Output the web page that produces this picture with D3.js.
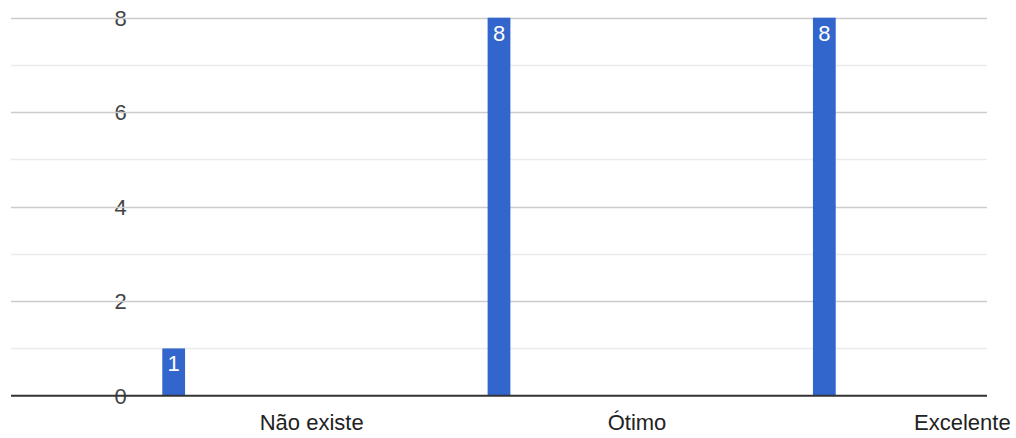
<!DOCTYPE html>
<html>
<head>
<meta charset="utf-8">
<script src="https://cdn.jsdelivr.net/npm/d3@7"></script>
<style>
  html, body { margin: 0; padding: 0; background: #fff; }
  svg { display: block; }
  text { font-family: Arial, "Liberation Sans", sans-serif; }
</style>
</head>
<body>
<svg id="chart" width="1016" height="438"></svg>
<script>
const categories = ["Não existe", "Ótimo", "Excelente"];
const values = [1, 8, 8];
const yTicks = [0, 2, 4, 6, 8];
const yMinorTicks = [1, 3, 5, 7];

(function () {
const W = 1016, H = 438;
const plotLeft = 11, plotRight = 987, plotTop = 17.7, plotBottom = 395.7;

const svg = d3.select("#chart");

const x = d3.scaleBand()
  .domain(categories)
  .range([plotLeft, plotRight])
  .paddingInner(0.93)
  .paddingOuter(0.465);

const y = d3.scaleLinear().domain([0, 8]).range([plotBottom, plotTop]);

// y labels
svg.append("g").selectAll("text")
  .data(yTicks)
  .join("text")
  .attr("x", 120.5)
  .attr("y", d => y(d))
  .attr("dy", "0.36em")
  .attr("text-anchor", "middle")
  .attr("font-size", 22)
  .attr("fill", "#444")
  .text(d => d);

// minor gridlines
svg.append("g").selectAll("line")
  .data(yMinorTicks)
  .join("line")
  .attr("x1", plotLeft).attr("x2", plotRight)
  .attr("y1", d => Math.round(y(d)) + 0.5)
  .attr("y2", d => Math.round(y(d)) + 0.5)
  .attr("stroke", "#ebebeb")
  .attr("stroke-width", 1.3);

// major gridlines
svg.append("g").selectAll("line")
  .data(yTicks.filter(d => d !== 0))
  .join("line")
  .attr("x1", plotLeft).attr("x2", plotRight)
  .attr("y1", d => Math.round(y(d)) + 0.5)
  .attr("y2", d => Math.round(y(d)) + 0.5)
  .attr("stroke", "#cccccc")
  .attr("stroke-width", 1.3);

// bars
svg.append("g").selectAll("rect")
  .data(values)
  .join("rect")
  .attr("x", (d, i) => x(categories[i]))
  .attr("width", x.bandwidth())
  .attr("y", d => y(d))
  .attr("height", d => y(0) - y(d))
  .attr("fill", "#3366cc");

// value labels
svg.append("g").selectAll("text")
  .data(values)
  .join("text")
  .attr("x", (d, i) => x(categories[i]) + x.bandwidth() / 2)
  .attr("y", d => y(d) + 23)
  .attr("text-anchor", "middle")
  .attr("font-size", 22)
  .attr("fill", "#ffffff")
  .text(d => d);

// baseline
svg.append("line")
  .attr("x1", plotLeft).attr("x2", plotRight)
  .attr("y1", y(0)).attr("y2", y(0))
  .attr("stroke", "#333333")
  .attr("stroke-width", 2);

// category labels (Google-style offset placement)
svg.append("g").selectAll("text")
  .data(categories)
  .join("text")
  .attr("x", d => x(d) + x.bandwidth() / 2 + 138)
  .attr("y", 429.5)
  .attr("text-anchor", "middle")
  .attr("font-size", 22)
  .attr("fill", "#222")
  .text(d => d);
})();
</script>
</body>
</html>
